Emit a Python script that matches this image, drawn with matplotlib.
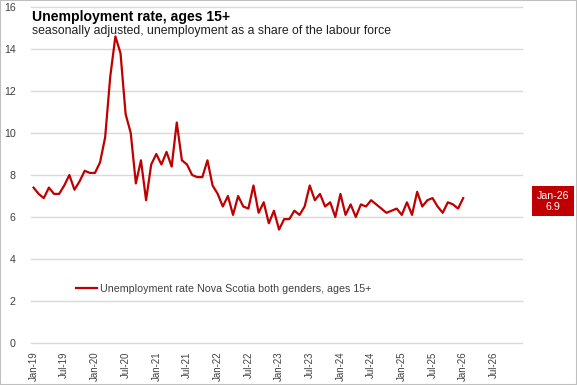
import matplotlib.pyplot as plt
import matplotlib.transforms as mtransforms
from matplotlib.patches import Rectangle
from matplotlib import font_manager

# Monthly unemployment rate, Jan-19 .. Jan-26
rate = [7.4, 7.1, 6.9, 7.4, 7.1, 7.1, 7.5, 8.0, 7.3, 7.7, 8.2, 8.1,
        8.1, 8.6, 9.8, 12.7, 14.6, 13.8, 10.9, 10.0, 7.6, 8.7, 6.8, 8.5,
        9.0, 8.5, 9.1, 8.4, 10.5, 8.7, 8.5, 8.0, 7.9, 7.9, 8.7, 7.5,
        7.1, 6.5, 7.0, 6.1, 7.0, 6.5, 6.4, 7.5, 6.2, 6.7, 5.7, 6.3,
        5.4, 5.9, 5.9, 6.3, 6.1, 6.5, 7.5, 6.8, 7.1, 6.5, 6.7, 6.0,
        7.1, 6.1, 6.6, 6.0, 6.6, 6.5, 6.8, 6.6, 6.4, 6.2, 6.3, 6.4,
        6.1, 6.7, 6.1, 7.2, 6.5, 6.8, 6.9, 6.5, 6.2, 6.7, 6.6, 6.4,
        6.9]
tick_labels = ['Jan-19', 'Jul-19', 'Jan-20', 'Jul-20', 'Jan-21', 'Jul-21',
               'Jan-22', 'Jul-22', 'Jan-23', 'Jul-23', 'Jan-24', 'Jul-24',
               'Jan-25', 'Jul-25', 'Jan-26', 'Jul-26']
last_label = 'Jan-26'
n_months = 96  # axis runs Jan-19 .. Dec-26

red = '#C00000'
grid = '#D9D9D9'
txt = '#404040'

names = {f.name for f in font_manager.fontManager.ttflist}
narrow = 'Liberation Sans Narrow' if 'Liberation Sans Narrow' in names else 'Liberation Sans'
k = 1.0 if narrow == 'Liberation Sans Narrow' else 0.85

plt.rcParams['font.family'] = [narrow, 'DejaVu Sans']

fig = plt.figure(figsize=(5.77, 3.85), dpi=100)
ax = fig.add_axes([31/577, 1 - 343/385, 491/577, 336/385])

x = list(range(len(rate)))
ax.plot(x, rate, color=red, lw=1.6, label='Unemployment rate Nova Scotia both genders, ages 15+')

ax.set_xlim(-0.5, n_months - 0.5)
ax.set_ylim(0, 16)
ax.set_yticks(range(0, 17, 2))
ax.set_xticks(range(0, 6 * len(tick_labels), 6))
ax.set_xticklabels(tick_labels, rotation=90)
ax.tick_params(axis='both', length=0, labelsize=8.2 * k, labelcolor=txt)
ax.tick_params(axis='y', pad=11, labelsize=9 * k)
ax.tick_params(axis='x', pad=6)
ax.grid(axis='y', color=grid, lw=1)
for gl in ax.get_ygridlines():
    gl.set_clip_on(False)
ax.set_axisbelow(True)
for s in ax.spines.values():
    s.set_visible(False)

ax.legend(loc='lower left', bbox_to_anchor=(0.072, 0.118), frameon=False,
          fontsize=9 * k, handlelength=2.0, handletextpad=0.25, labelcolor=txt)

fig.text(32/577, 1 - 17/385, 'Unemployment rate, ages 15+', fontsize=10.1,
         fontweight='bold', va='center', ha='left', color='black',
         family=['Liberation Sans', 'DejaVu Sans'])
fig.text(32/577, 1 - 31/385, 'seasonally adjusted, unemployment as a share of the labour force',
         fontsize=8.8, va='center', ha='left', color='#202020',
         family=['Liberation Sans', 'DejaVu Sans'])

trans = mtransforms.blended_transform_factory(fig.transFigure, ax.transData)
ax.text(553/577, rate[-1] - 0.15, last_label + '\n' + str(rate[-1]), transform=trans,
        ha='center', va='center', fontsize=9 * k, color='white', linespacing=1.1,
        bbox=dict(facecolor=red, edgecolor='none', boxstyle='square,pad=0.45'),
        clip_on=False)

fig.patches.append(Rectangle((0, 0), 1, 1, transform=fig.transFigure, fill=False,
                             edgecolor='#BFBFBF', lw=1.5))

fig.savefig('out.png', dpi=100)
